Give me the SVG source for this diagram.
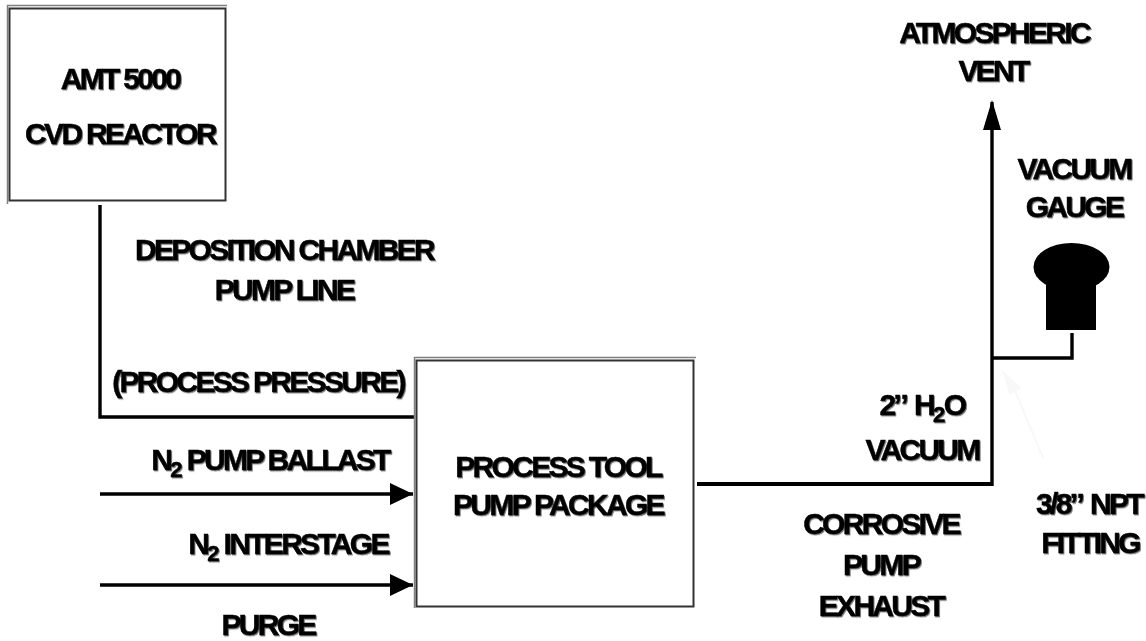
<svg xmlns="http://www.w3.org/2000/svg" width="1146" height="641" viewBox="0 0 1146 641">
<style>
text{font-family:"Liberation Sans",Arial,sans-serif;font-weight:700;font-size:30px;letter-spacing:-2.7px;text-anchor:middle;fill:#000;stroke:#000;stroke-width:.5px;filter:url(#sh)}
tspan.s{font-size:22px;letter-spacing:-1.5px}
tspan.q{letter-spacing:-.4px}
.l{fill:none;stroke:#000;stroke-width:3.4}
.o{fill:none;stroke:#808080;stroke-width:1.5}
.i{fill:#fff;stroke:#333;stroke-width:2}
</style>
<defs>
<filter id="sh" x="-5%" y="-15%" width="110%" height="130%"><feDropShadow dx="1" dy="1.2" stdDeviation=".5" flood-color="#000" flood-opacity=".55"/></filter>
<marker id="a" markerUnits="userSpaceOnUse" markerWidth="24" markerHeight="22" refX="23" refY="11" orient="auto"><path d="M0 0L23 11L0 22Z" fill="#000"/></marker>
</defs>
<g id="connectors">
<path class="l" d="M100 205V417H415"/>
<path class="l" d="M100 494H413" marker-end="url(#a)"/>
<path class="l" d="M100 585H413" marker-end="url(#a)"/>
<path class="l" style="stroke-width:4" d="M697 484H992"/>
<path class="l" d="M992 486V102"/>
<path d="M992 100L1001 130H983Z"/>
<path class="l" d="M992 358H1072V333"/>
<path d="M1001 369L1021 388L1010 395Z" fill="#f8f8f8"/>
<path d="M1015 391L1043 458" stroke="#f8f8f8" stroke-width="2" fill="none"/>
</g>
<g id="reactor">
<path class="o" d="M7.500 204V5.500H227"/>
<rect class="i" x="9.500" y="8.500" width="216" height="192"/>
<text x="120" y="89">AMT 5000</text>
<text x="120" y="144">CVD REACTOR</text>
</g>
<g id="pump">
<path class="o" d="M414.500 608V357.500H696"/>
<rect class="i" x="416.500" y="360.500" width="277" height="246"/>
<text x="558" y="477">PROCESS TOOL</text>
<text x="558" y="515">PUMP PACKAGE</text>
</g>
<g id="gauge">
<ellipse cx="1071.500" cy="267" rx="38" ry="24"/>
<rect x="1046" y="285" width="50" height="45"/>
</g>
<g id="labels">
<text x="284" y="260">DEPOSITION CHAMBER</text>
<text x="284" y="300">PUMP LINE</text>
<text x="258" y="392">(PROCESS PRESSURE)</text>
<text x="270" y="470">N<tspan class="s" dy="7">2</tspan><tspan dy="-7"> PUMP BALLAST</tspan></text>
<text x="288" y="554">N<tspan class="s" dy="7">2</tspan><tspan dy="-7"> INTERSTAGE</tspan></text>
<text x="268" y="635">PURGE</text>
<text x="994" y="43">ATMOSPHERIC</text>
<text x="993" y="81">VENT</text>
<text x="1074" y="179">VACUUM</text>
<text x="1074" y="217">GAUGE</text>
<text x="922" y="415">2<tspan class="q">’’</tspan> H<tspan class="s" dy="7">2</tspan><tspan dy="-7">O</tspan></text>
<text x="922" y="460">VACUUM</text>
<text x="881" y="534">CORROSIVE</text>
<text x="881" y="575">PUMP</text>
<text x="881" y="616">EXHAUST</text>
<text x="1089" y="514">3/8<tspan class="q">’’</tspan> NPT</text>
<text x="1090" y="553">FITTING</text>
</g>
</svg>
